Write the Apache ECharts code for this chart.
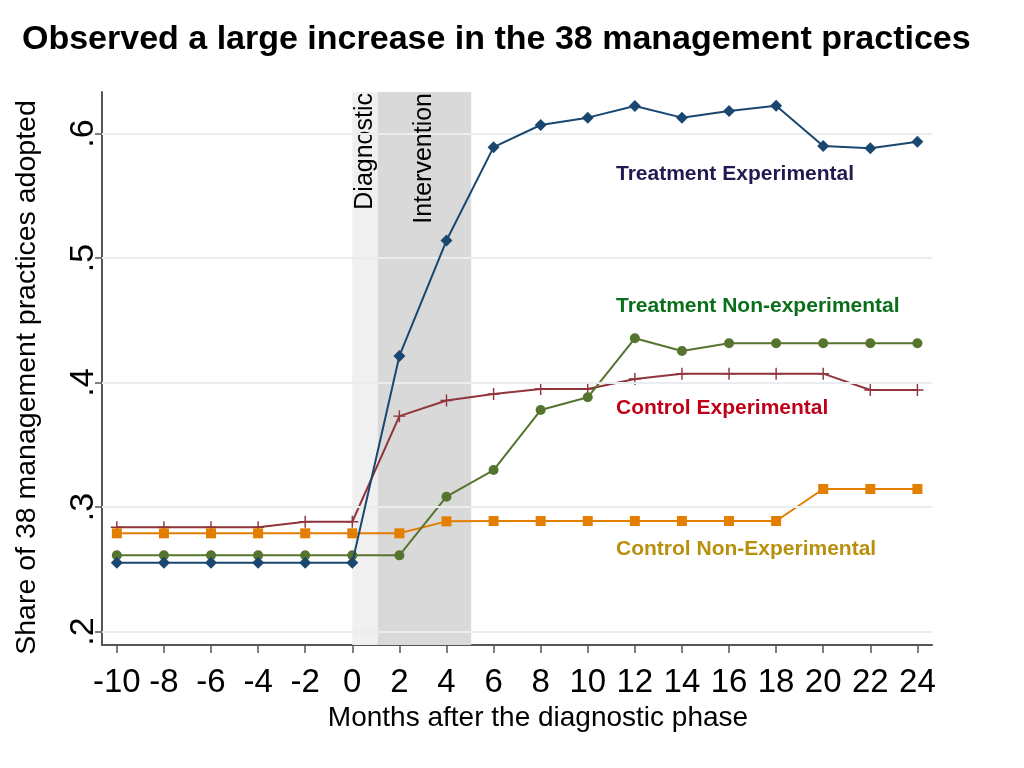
<!DOCTYPE html>
<html>
<head>
<meta charset="utf-8">
<script src="https://cdn.jsdelivr.net/npm/echarts@6/dist/echarts.min.js"></script>
<style>html,body{margin:0;padding:0;background:#fff}#c{width:1024px;height:768px}</style>
</head>
<body>
<div id="c"></div>
<script>
const months = [-10,-8,-6,-4,-2,0,2,4,6,8,10,12,14,16,18,20,22,24];
const yTicks = [0.2,0.3,0.4,0.5,0.6];
const treatExp = [0.2553,0.2553,0.2553,0.2553,0.2553,0.2553,0.4213,0.5140,0.5890,0.6068,0.6127,0.6221,0.6127,0.6181,0.6223,0.5900,0.5881,0.5934];
const treatNonExp = [0.2612,0.2612,0.2612,0.2612,0.2612,0.2612,0.2612,0.3083,0.3297,0.3779,0.3881,0.4355,0.4253,0.4315,0.4315,0.4315,0.4315,0.4315];
const ctrlExp = [0.2837,0.2837,0.2837,0.2837,0.2882,0.2882,0.3730,0.3855,0.3908,0.3948,0.3948,0.4028,0.4071,0.4071,0.4071,0.4071,0.3940,0.3940];
const ctrlNonExp = [0.2789,0.2789,0.2789,0.2789,0.2789,0.2789,0.2789,0.2885,0.2888,0.2888,0.2888,0.2888,0.2888,0.2888,0.2888,0.3145,0.3145,0.3145];
const diagnosticBand = [0, 1.08];
const interventionBand = [1.08, 5.05];

const FONT = 'Liberation Sans, Arial, Helvetica, sans-serif';
const pair = arr => months.map((m,i)=>[m, arr[i]]);
const plusPath = 'path://M4.4,0h1.2v4.4h4.4v1.2h-4.4v4.4h-1.2v-4.4h-4.4v-1.2h4.4z';

const bandData = (withColor) => [
  [{xAxis: diagnosticBand[0], name: 'Diagnostic', itemStyle: {color: withColor ? '#f0f0f0' : 'rgba(0,0,0,0)'}}, {xAxis: diagnosticBand[1]}],
  [{xAxis: interventionBand[0], name: 'Intervention', itemStyle: {color: withColor ? '#d9d9d9' : 'rgba(0,0,0,0)'}}, {xAxis: interventionBand[1]}]
];

const chart = echarts.init(document.getElementById('c'), null, {renderer:'canvas'});
chart.setOption({
  animation: false,
  backgroundColor: '#fff',
  textStyle: {fontFamily: FONT},
  title: {
    text: 'Observed a large increase in the 38 management practices',
    left: 22, top: 23, padding: 0,
    textStyle: {fontFamily: FONT, fontSize: 34, fontWeight: 'bold', color: '#000'}
  },
  grid: {left: 102, right: 92, top: 92, bottom: 123},
  xAxis: {
    type: 'value', min: -10.63, max: 24.62,
    name: 'Months after the diagnostic phase',
    nameLocation: 'middle', nameGap: 58,
    nameTextStyle: {fontFamily: FONT, fontSize: 28, color: '#000', padding: [0,0,0,42]},
    axisLine: {show: true, onZero: false, lineStyle: {color: '#555', width: 2}},
    axisTick: {show: true, length: 8, customValues: months, lineStyle: {color: '#555', width: 1.5}},
    axisLabel: {customValues: months, fontSize: 33, color: '#000', margin: 21, fontFamily: FONT},
    splitLine: {show: false}
  },
  yAxis: {
    type: 'value', min: 0.1892, max: 0.6333,
    name: 'Share of 38 management practices adopted',
    nameLocation: 'middle', nameGap: 60, nameRotate: 90,
    nameTextStyle: {fontFamily: FONT, fontSize: 28.5, color: '#000', padding: [0,18,0,0]},
    axisLine: {show: true, onZero: false, lineStyle: {color: '#555', width: 2}},
    axisTick: {show: true, length: 7, customValues: yTicks, lineStyle: {color: '#555', width: 1.5}},
    axisLabel: {customValues: yTicks, rotate: 90, fontSize: 34, color: '#000', margin: 1, fontFamily: FONT,
      formatter: v => '.' + Math.round(v*10)},
    splitLine: {show: false}
  },
  series: [
    {
      type: 'line', data: [], z: 1, silent: true,
      markArea: {silent: true, itemStyle: {opacity: 1}, label: {show: false}, data: bandData(true)}
    },
    {
      type: 'line', data: [], z: 1, silent: true,
      markLine: {
        silent: true, symbol: ['none','none'],
        label: {show: false},
        lineStyle: {color: '#e8edf0', width: 2, type: 'solid'},
        data: yTicks.map(v => ({yAxis: v}))
      }
    },
    {
      type: 'line', data: [], z: 2, silent: true,
      markArea: {
        silent: true,
        label: {show: true, position: 'insideTop', rotate: 90, align: 'right', verticalAlign: 'middle',
          distance: 1, fontSize: 25, color: '#000', fontFamily: FONT},
        data: bandData(false)
      }
    },
    {name: 'Treatment Experimental', type: 'line', z: 5, data: pair(treatExp), symbol: 'diamond', symbolSize: 12,
      lineStyle: {color: '#1a476f', width: 2}, itemStyle: {color: '#1a476f'}},
    {name: 'Treatment Non-experimental', type: 'line', z: 4, data: pair(treatNonExp), symbol: 'circle', symbolSize: 10,
      lineStyle: {color: '#55752f', width: 2}, itemStyle: {color: '#55752f'}},
    {name: 'Control Experimental', type: 'line', z: 3, data: pair(ctrlExp), symbol: plusPath, symbolSize: 12,
      lineStyle: {color: '#90353b', width: 2}, itemStyle: {color: '#90353b'}},
    {name: 'Control Non-Experimental', type: 'line', z: 3, data: pair(ctrlNonExp), symbol: 'rect', symbolSize: 10,
      lineStyle: {color: '#e37e00', width: 2}, itemStyle: {color: '#e37e00'}}
  ],
  graphic: [
    {type: 'text', left: 616, top: 164, style: {text: 'Treatment Experimental', fill: '#1f1a4f', font: 'bold 21px ' + FONT}},
    {type: 'text', left: 616, top: 296, style: {text: 'Treatment Non-experimental', fill: '#0b6e1a', font: 'bold 21px ' + FONT}},
    {type: 'text', left: 616, top: 398, style: {text: 'Control Experimental', fill: '#c00018', font: 'bold 21px ' + FONT}},
    {type: 'text', left: 616, top: 539, style: {text: 'Control Non-Experimental', fill: '#b8900d', font: 'bold 21px ' + FONT}}
  ]
});
</script>
</body>
</html>
